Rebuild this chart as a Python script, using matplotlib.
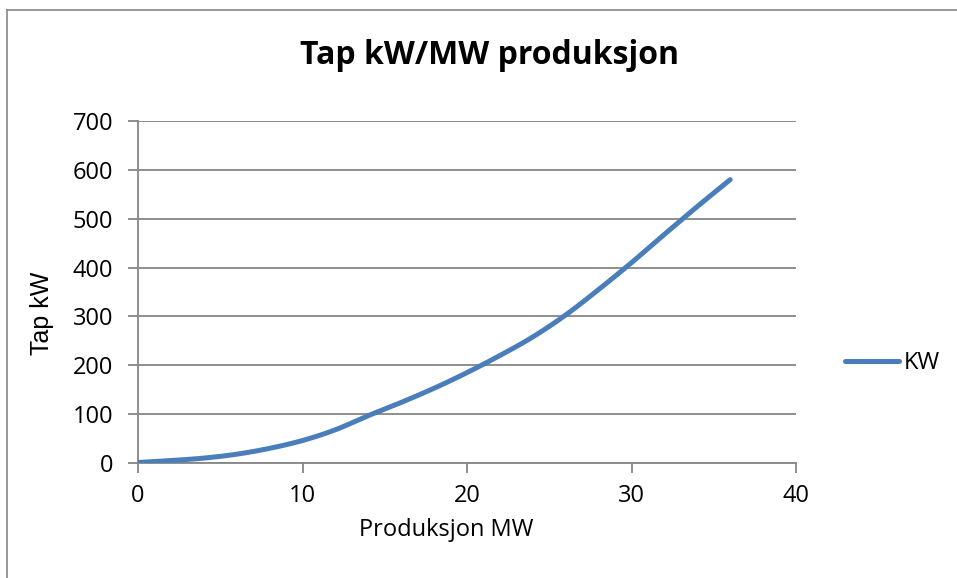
import numpy as np
import matplotlib.pyplot as plt
from matplotlib.lines import Line2D

# Produksjon MW og tap kW
produksjon = [0, 2, 4, 6, 8, 10, 12, 14, 16, 18, 20, 22, 24, 26, 28, 30, 32, 34, 36]
tap_kw = [1, 5, 10, 18, 30, 46, 68, 97, 124, 153, 185, 220, 258, 303, 355, 410, 468, 525, 580]

x_ticks = [0, 10, 20, 30, 40]
y_ticks = [0, 100, 200, 300, 400, 500, 600, 700]


def glatt(x, y, n=12):
    # glatt linje som i Excel (Catmull-Rom gjennom punktene)
    x = np.asarray(x, float)
    y = np.asarray(y, float)
    px = np.concatenate([[2 * x[0] - x[1]], x, [2 * x[-1] - x[-2]]])
    py = np.concatenate([[2 * y[0] - y[1]], y, [2 * y[-1] - y[-2]]])
    t = np.linspace(0, 1, n, endpoint=False)[:, None]
    ox, oy = [], []
    for i in range(1, len(px) - 2):
        for p, o in ((px, ox), (py, oy)):
            p0, p1, p2, p3 = p[i - 1], p[i], p[i + 1], p[i + 2]
            o.append((0.5 * ((2 * p1) + (-p0 + p2) * t + (2 * p0 - 5 * p1 + 4 * p2 - p3) * t ** 2
                             + (-p0 + 3 * p1 - 3 * p2 + p3) * t ** 3)).ravel())
    return np.concatenate(ox + [x[-1:]]), np.concatenate(oy + [y[-1:]])


plt.rcParams['font.family'] = ['Open Sans', 'DejaVu Sans']

fig = plt.figure(figsize=(9.57, 5.78), dpi=100)
# ramme rundt diagrammet (bare venstre og topp er synlig)
top = 1 - 10 / 578
left = 7 / 957
fig.lines.append(Line2D([left, left], [-0.1, top], transform=fig.transFigure,
                        color='#868686', linewidth=1.2))
fig.lines.append(Line2D([left, 1.1], [top, top], transform=fig.transFigure,
                        color='#868686', linewidth=1.2))

ax = fig.add_axes([138 / 957, 115 / 578, 658 / 957, 342 / 578])
gx, gy = glatt(produksjon, tap_kw)
ax.plot(gx, gy, color='#4A7EBB', linewidth=3.6, solid_capstyle='round',
        solid_joinstyle='round', label='KW', zorder=3)

ax.set_xlim(0, 40)
ax.set_ylim(0, 700)
ax.set_xticks(x_ticks)
ax.set_yticks(y_ticks)
ax.grid(True, axis='y', color='#868686', linewidth=1.3)
ax.set_axisbelow(True)
for s in ['top', 'right']:
    ax.spines[s].set_visible(False)
for s in ['left', 'bottom']:
    ax.spines[s].set_color('#868686')
    ax.spines[s].set_linewidth(1.3)
ax.tick_params(axis='both', direction='out', length=7, width=1.3, color='#868686',
               labelsize=17)
ax.tick_params(axis='y', pad=11)
ax.tick_params(axis='x', pad=8)

ax.set_xlabel('Produksjon MW', fontsize=17, va='center')
ax.xaxis.set_label_coords((446 - 138) / 658, (463 - 530) / 342)
ax.set_ylabel('Tap kW', fontsize=18, family=['Liberation Sans'], va='center')
ax.yaxis.set_label_coords((42 - 138) / 658, (463 - 313) / 342)
fig.text(489 / 957, 1 - 55 / 578, 'Tap kW/MW produksjon', ha='center', va='center',
         fontsize=23, fontweight='bold')

ax.legend(loc='center left', bbox_to_anchor=((845 - 138) / 658, (463 - 363) / 342),
          frameon=False, fontsize=17, borderpad=0, borderaxespad=0,
          handlelength=2.3, handletextpad=0.2)

fig.savefig('out.png', dpi=100)
